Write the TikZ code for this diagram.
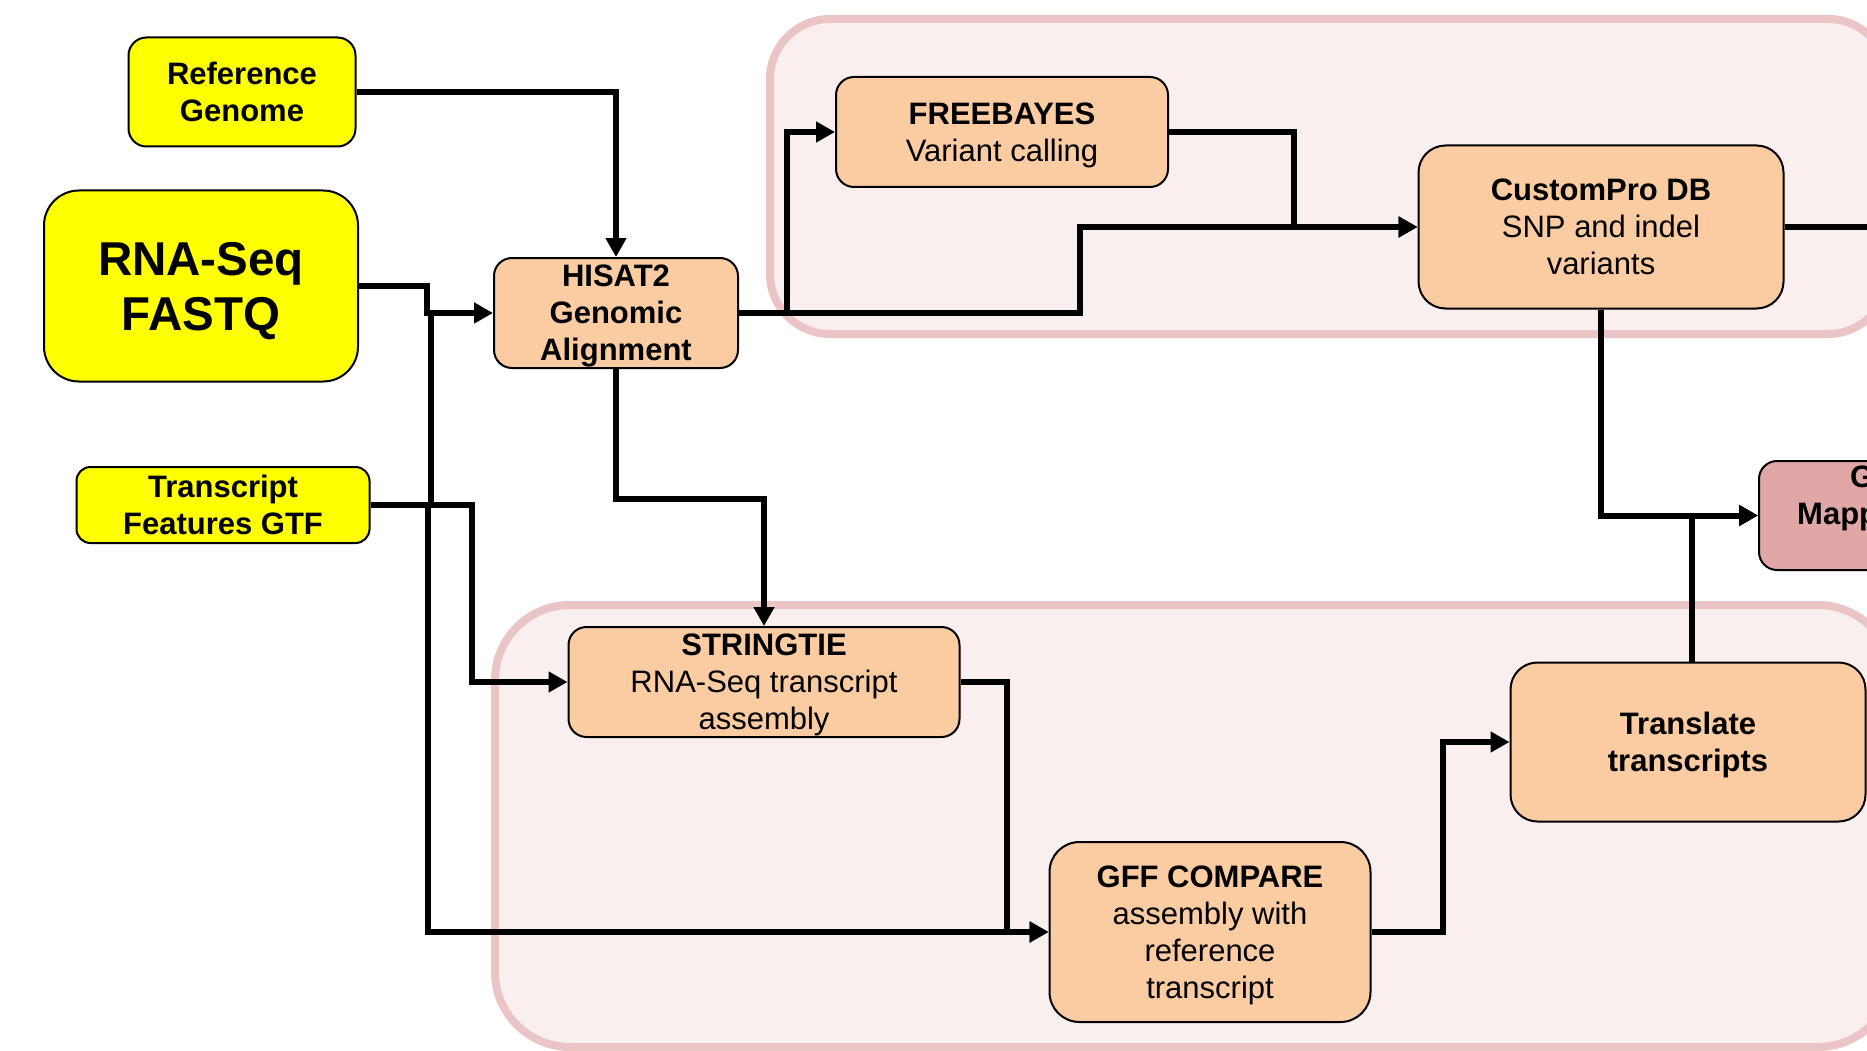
\documentclass[tikz,border=0pt]{standalone}
\usepackage{fontspec}
\setmainfont{Liberation Sans}
\usetikzlibrary{arrows.meta}
\definecolor{inputyellow}{HTML}{FFFF00}
\definecolor{toolorange}{HTML}{FBCBA1}
\definecolor{mapred}{HTML}{E1A7A7}
\definecolor{groupfill}{HTML}{FAEFEF}
\definecolor{groupline}{HTML}{EBC5C5}
\newcommand{\boxfont}{\fontsize{31}{37}\selectfont}
\newcommand{\bigboxfont}{\fontsize{47.5}{55}\selectfont}
\tikzset{
    input-box/.style = {draw=black, fill=inputyellow, line width=2pt, rectangle, rounded corners=18pt, inner sep=0pt, text depth=-3pt, align=center, font=\boxfont\bfseries},
    big-input-box/.style = {input-box, font=\bigboxfont\bfseries, text depth=-8pt},
    tool-box/.style = {input-box, fill=toolorange, font=\boxfont},
    map-box/.style = {tool-box, fill=mapred},
    group-panel/.style = {draw=groupline, fill=groupfill, line width=8pt},
    flow-arrow/.style = {line width=6pt, -{Triangle[length=19pt, width=20pt]}},
    flow-line/.style = {line width=6pt},
}

\begin{document}
\begin{tikzpicture}[x=1pt, y=-1pt]
\useasboundingbox (0,0) rectangle (1867,1051);
\clip (0,0) rectangle (1867,1051);
\fill[white] (0,0) rectangle (1867,1051);

\draw[group-panel, rounded corners=60pt] (770,19) rectangle (1888,334);
\draw[group-panel, rounded corners=75pt] (495,605) rectangle (1893,1047);

\node[input-box, minimum width=227pt, minimum height=109pt] (refgenome) at (242,92) {Reference\\Genome};
\node[big-input-box, minimum width=314pt, minimum height=191pt, rounded corners=35pt] (fastq) at (201,286) {RNA-Seq\\FASTQ};
\node[input-box, minimum width=293pt, minimum height=76pt, rounded corners=14pt] (gtf) at (223,505) {Transcript\\Features GTF};

\node[tool-box, minimum width=244pt, minimum height=110pt, font=\boxfont\bfseries] (hisat) at (616,313) {HISAT2\\Genomic\\Alignment};
\node[tool-box, minimum width=332pt, minimum height=110pt] (freebayes) at (1002,132) {\textbf{FREEBAYES}\\Variant calling};
\node[tool-box, minimum width=365pt, minimum height=163pt, rounded corners=27pt] (custompro) at (1601,227) {\textbf{CustomPro DB}\\SNP and indel\\variants};
\node[tool-box, minimum width=391pt, minimum height=110pt] (stringtie) at (764,682) {\textbf{STRINGTIE}\\RNA-Seq transcript\\assembly};
\node[tool-box, minimum width=321pt, minimum height=180pt, rounded corners=30pt] (gffcmp) at (1210,932) {\textbf{GFF COMPARE}\\assembly with\\reference\\transcript};
\node[tool-box, minimum width=355pt, minimum height=159pt, rounded corners=27pt, font=\boxfont\bfseries] (translate) at (1688,742) {Translate\\transcripts};

\node[map-box, anchor=west, minimum width=365pt, minimum height=109pt] (mapping) at (1758,515.5) {};
\node[anchor=west, align=left, inner sep=0pt, font=\boxfont\bfseries] (mapping-text) at (1797,498.5) {\hspace*{53pt}G\\Mapp};

\coordinate (fastq-drop) at (431,313);
\coordinate (custompro-out) at (1890,227);

\draw[flow-arrow] (refgenome.east) -| (hisat.north);
\draw[flow-arrow] (fastq.east) -- ++(68,0) |- (hisat.west);
\draw[flow-line] (fastq-drop) -- (fastq-drop |- gtf.east);
\draw[flow-arrow] (gtf.east) -- ++(101,0) |- (stringtie.west);
\draw[flow-arrow] (gtf.east) -- ++(57,0) |- (gffcmp.west);
\draw[flow-arrow] (hisat.south) -- ++(0,130) -| (stringtie.north);
\draw[flow-arrow] (hisat.east) -- ++(48,0) |- (freebayes.west);
\draw[flow-arrow] (hisat.east) -- ++(341,0) |- (custompro.west);
\draw[flow-arrow] (freebayes.east) -- ++(125,0) |- (custompro.west);
\draw[flow-line] (custompro.east) -- (custompro-out);
\draw[flow-arrow] (custompro.south) |- (mapping.west);
\draw[flow-arrow] ([xshift=4pt]translate.north) |- (mapping.west);
\draw[flow-arrow] (stringtie.east) -- ++(46,0) |- (gffcmp.west);
\draw[flow-arrow] (gffcmp.east) -- ++(71,0) |- (translate.west);
\end{tikzpicture}
\end{document}
